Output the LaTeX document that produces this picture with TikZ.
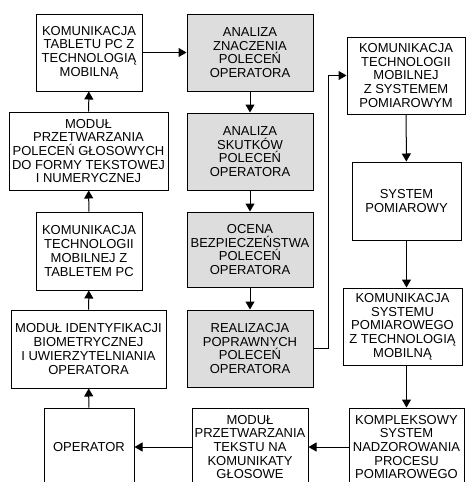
\documentclass[tikz,border=0pt]{standalone}
\usepackage{fontspec}
\setmainfont{Liberation Sans}
\definecolor{boxgray}{RGB}{221, 221, 221}
\usetikzlibrary{arrows.meta, positioning}

\begin{document}
\begin{tikzpicture}[x=1pt, y=-1pt,
    box/.style={draw=black, line width=1pt, align=center, inner sep=2pt,
      font=\fontsize{13}{13.7}\selectfont},
    graybox/.style={box, fill=boxgray},
    arr/.style={line width=1pt, -{Triangle[width=9pt, length=8pt]}}]
  \useasboundingbox (0,0) rectangle (466,482);
  \clip (0,0) rectangle (466,482);

  % left column
  \node[box, minimum width=106pt, minimum height=77pt] (tablet) at (89,52.5)
    {KOMUNIKACJA\\TABLETU PC Z\\TECHNOLOGIĄ\\MOBILNĄ};
  \node[box, minimum width=159pt, minimum height=78pt] (voice) at (88.5,151)
    {MODUŁ\\PRZETWARZANIA\\POLECEŃ GŁOSOWYCH\\DO FORMY TEKSTOWEJ\\I NUMERYCZNEJ};
  \node[box, minimum width=106pt, minimum height=78pt] (mobile) at (89,251)
    {KOMUNIKACJA\\TECHNOLOGII\\MOBILNEJ Z\\TABLETEM PC};
  \node[box, minimum width=155pt, minimum height=78pt] (ident) at (88.5,349)
    {MODUŁ IDENTYFIKACJI\\BIOMETRYCZNEJ\\I UWIERZYTELNIANIA\\OPERATORA};
  \node[box, minimum width=90pt, minimum height=78pt] (operator) at (89,447)
    {OPERATOR};

  % middle column
  \node[graybox, minimum width=126pt, minimum height=77pt] (meaning) at (250,52.5)
    {ANALIZA\\ZNACZENIA\\POLECEŃ\\OPERATORA};
  \node[graybox, minimum width=126pt, minimum height=77pt] (effects) at (250,151.5)
    {ANALIZA\\SKUTKÓW\\POLECEŃ\\OPERATORA};
  \node[graybox, minimum width=126pt, minimum height=75pt] (safety) at (250,249.5)
    {OCENA\\BEZPIECZEŃSTWA\\POLECEŃ\\OPERATORA};
  \node[graybox, minimum width=126pt, minimum height=77pt] (exec) at (250,348.5)
    {REALIZACJA\\POPRAWNYCH\\POLECEŃ\\OPERATORA};
  \node[box, minimum width=116pt, minimum height=78pt] (speech) at (250,447)
    {MODUŁ\\PRZETWARZANIA\\TEKSTU NA\\KOMUNIKATY\\GŁOSOWE};

  % right column
  \node[box, minimum width=118pt, minimum height=77pt] (mobsys) at (406,75.5)
    {KOMUNIKACJA\\TECHNOLOGII\\MOBILNEJ\\Z SYSTEMEM\\POMIAROWYM};
  \node[box, minimum width=109pt, minimum height=78pt] (measure) at (406.5,201)
    {SYSTEM\\POMIAROWY};
  \node[box, minimum width=119pt, minimum height=77pt] (sysmob) at (402.5,326.5)
    {KOMUNIKACJA\\SYSTEMU\\POMIAROWEGO\\Z TECHNOLOGIĄ\\MOBILNĄ};
  \node[box, minimum width=115pt, minimum height=78pt] (super) at (406.5,447)
    {KOMPLEKSOWY\\SYSTEM\\NADZOROWANIA\\PROCESU\\POMIAROWEGO};

  \draw[arr] (operator) -- (ident);
  \draw[arr] (ident) -- (mobile);
  \draw[arr] (mobile) -- (voice);
  \draw[arr] (voice) -- (tablet);
  \draw[arr] (tablet) -- (meaning);
  \draw[arr] (meaning) -- (effects);
  \draw[arr] (effects) -- (safety);
  \draw[arr] (safety) -- (exec);
  \draw[arr] (exec.east) -- ++(15,0) |- (mobsys.west);
  \draw[arr] (mobsys) -- (measure);
  \draw[arr] (measure.south) -- (measure.south |- sysmob.north);
  \draw[arr] (measure.south |- sysmob.south) -- (measure.south |- super.north);
  \draw[arr] (super) -- (speech);
  \draw[arr] (speech) -- (operator);
\end{tikzpicture}
\end{document}
